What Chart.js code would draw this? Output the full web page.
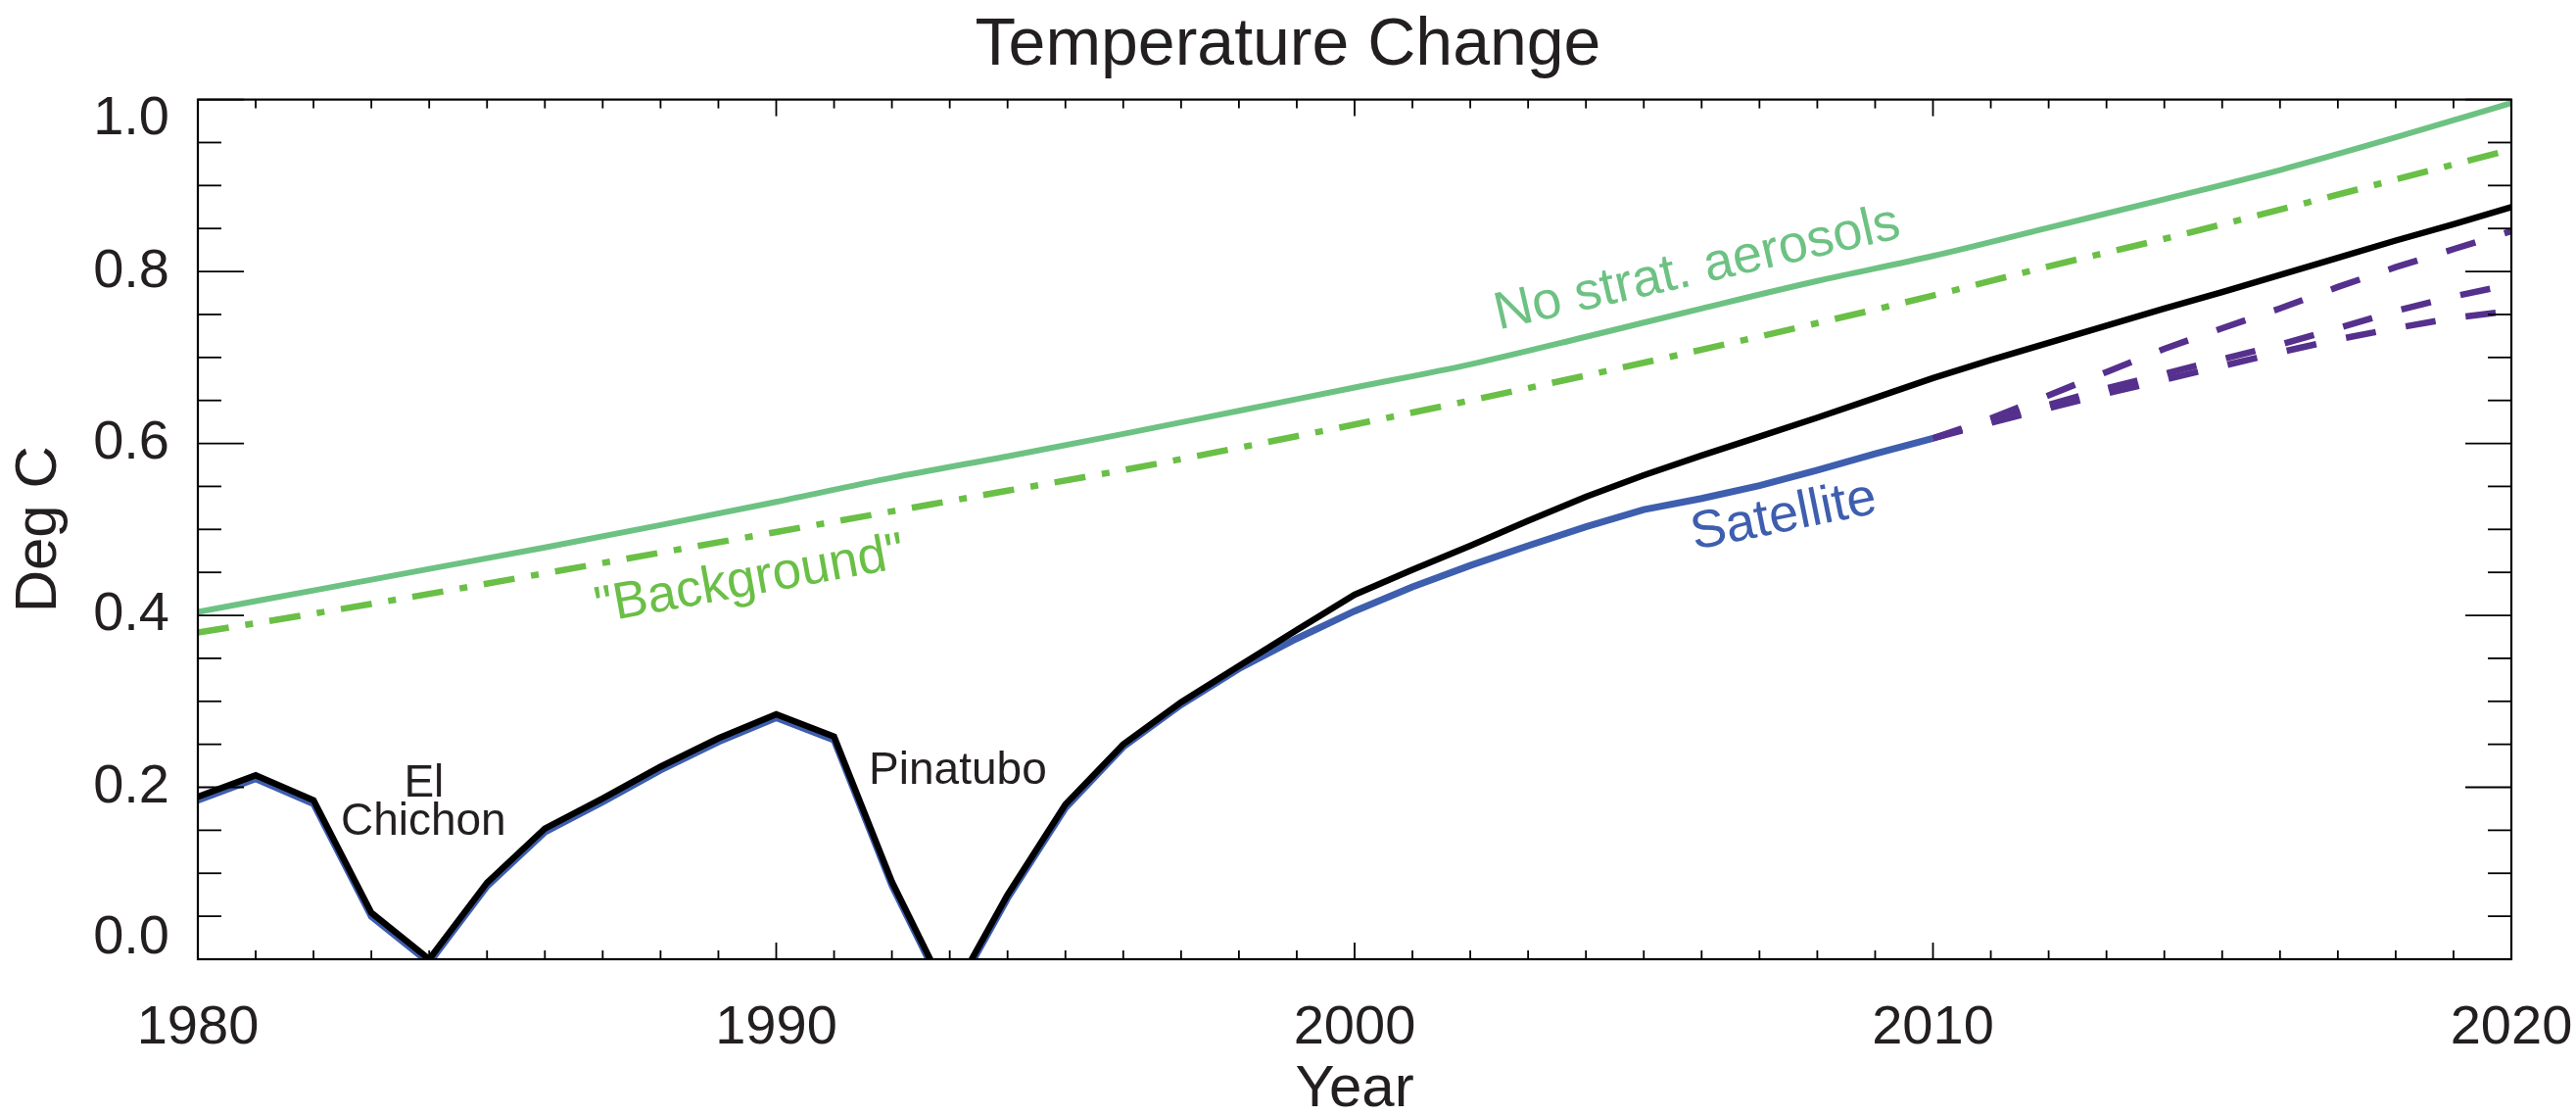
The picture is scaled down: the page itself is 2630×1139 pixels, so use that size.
<!DOCTYPE html>
<html>
<head>
<meta charset="utf-8">
<script src="https://cdn.jsdelivr.net/npm/chart.js@4"></script>
<style>
  html, body { margin: 0; padding: 0; background: #fff; }
  canvas { display: block; }
</style>
</head>
<body>
<canvas id="chartTemp" width="2630" height="1139"></canvas>
<script>
// ── Data ──────────────────────────────────────
const YEARS = [1980, 1981, 1982, 1983, 1984, 1985, 1986, 1987, 1988, 1989,
               1990, 1991, 1992, 1993, 1994, 1995, 1996, 1997, 1998, 1999,
               2000, 2001, 2002, 2003, 2004, 2005, 2006, 2007, 2008, 2009,
               2010, 2011, 2012, 2013, 2014, 2015, 2016, 2017, 2018, 2019, 2020];

// black: model with volcanic aerosols
const MODEL = [0.189, 0.214, 0.185, 0.054, 0.000, 0.089, 0.152, 0.187, 0.224, 0.257,
               0.285, 0.259, 0.090, -0.046, 0.075, 0.180, 0.250, 0.299, 0.341, 0.383,
               0.424, 0.453, 0.481, 0.510, 0.538, 0.563, 0.586, 0.608, 0.630, 0.653,
               0.676, 0.697, 0.717, 0.737, 0.757, 0.776, 0.796, 0.816, 0.836, 0.855, 0.875];

// blue: satellite era, 1980-2010
const SAT_YEARS = YEARS.slice(0, 31);
const SATELLITE = [0.185, 0.210, 0.181, 0.050, -0.004, 0.085, 0.148, 0.183, 0.220, 0.253,
                   0.281, 0.255, 0.086, -0.050, 0.071, 0.176, 0.247, 0.296, 0.338, 0.373,
                   0.405, 0.433, 0.458, 0.481, 0.503, 0.523, 0.536, 0.551, 0.569, 0.588, 0.606];

// purple dashed projections, 2010-2020
const PROJ_YEARS = YEARS.slice(30);
const PROJ_HIGH = [0.606, 0.629, 0.656, 0.683, 0.710, 0.734, 0.757, 0.782, 0.805, 0.826, 0.847];
const PROJ_MID  = [0.606, 0.626, 0.645, 0.664, 0.681, 0.698, 0.715, 0.734, 0.754, 0.771, 0.785];
const PROJ_LOW  = [0.606, 0.624, 0.641, 0.658, 0.674, 0.690, 0.706, 0.721, 0.734, 0.746, 0.754];

// green curves, every second year
const GREEN_YEARS = [1980, 1982, 1984, 1986, 1988, 1990, 1992, 1994, 1996, 1998, 2000,
                     2002, 2004, 2006, 2008, 2010, 2012, 2014, 2016, 2018, 2020];
const NO_STRAT   = [0.404, 0.429, 0.454, 0.479, 0.505, 0.532, 0.560, 0.585, 0.611, 0.638, 0.665,
                    0.692, 0.724, 0.757, 0.789, 0.818, 0.851, 0.884, 0.918, 0.956, 0.996];
const BACKGROUND = [0.380, 0.402, 0.425, 0.449, 0.473, 0.497, 0.521, 0.545, 0.569, 0.595, 0.622,
                    0.650, 0.679, 0.709, 0.740, 0.772, 0.806, 0.838, 0.872, 0.907, 0.942];

const Y_TICKS = [0.0, 0.2, 0.4, 0.6, 0.8, 1.0];

// ── Styles ─────────────────────────────────────
const FONT   = '"Liberation Sans", Helvetica, Arial, sans-serif';
const TEXT   = '#231f20';
const C_NOSTRAT = '#6dc283';
const C_BACK    = '#6abf46';
const C_SAT     = '#3e5eae';
const C_PROJ    = '#55308d';

// text labels placed in data coordinates
const NOTES = [
  { text: 'No strat. aerosols', x: 2005.98, y: 0.786, angle: -12.9, size: 54, color: C_NOSTRAT },
  { text: '"Background"',       x: 1989.59, y: 0.424, angle: -10.3, size: 53, color: C_BACK },
  { text: 'Satellite',          x: 2007.47, y: 0.498, angle: -11.4, size: 54, color: C_SAT },
  { text: 'El',                 x: 1983.91, y: 0.189, angle: 0,     size: 46, color: TEXT },
  { text: 'Chichon',            x: 1983.90, y: 0.145, angle: 0,     size: 46, color: TEXT },
  { text: 'Pinatubo',           x: 1993.14, y: 0.204, angle: 0,     size: 46, color: TEXT },
];

const pts = (xs, ys) => xs.map((x, i) => ({ x, y: ys[i] }));

// ── Frame, inward ticks, y labels, notes ──────
const frameAndNotes = {
  id: 'frameAndNotes',
  afterDatasetsDraw(chart) {
    const { ctx, chartArea: a, scales: { x, y } } = chart;
    const seg = (x1, y1, x2, y2) => { ctx.beginPath(); ctx.moveTo(x1, y1); ctx.lineTo(x2, y2); ctx.stroke(); };

    ctx.save();
    ctx.strokeStyle = '#000';
    ctx.lineWidth = 1.8;
    for (let yr = 1980; yr <= 2020; yr++) {
      const px = x.getPixelForValue(yr);
      const len = yr % 10 === 0 ? 17 : 9;
      seg(px, a.bottom, px, a.bottom - len);
      seg(px, a.top, px, a.top + len);
    }
    for (let i = 0; i <= 20; i++) {
      const py = y.getPixelForValue(i * 0.05);
      const len = i % 4 === 0 ? 47 : 24;
      seg(a.left, py, a.left + len, py);
      seg(a.right, py, a.right - len, py);
    }
    ctx.lineWidth = 2.2;
    ctx.strokeRect(a.left, a.top, a.right - a.left, a.bottom - a.top);

    // y tick labels, kept inside the frame at the ends
    ctx.fillStyle = TEXT;
    ctx.font = '56px ' + FONT;
    ctx.textAlign = 'right';
    ctx.textBaseline = 'middle';
    Y_TICKS.forEach(v => {
      let py = y.getPixelForValue(v);
      py = Math.min(Math.max(py, a.top + 20), a.bottom - 21);
      ctx.fillText(v.toFixed(1), a.left - 29, py);
    });

    // curve labels
    ctx.textAlign = 'center';
    ctx.textBaseline = 'alphabetic';
    NOTES.forEach(n => {
      ctx.save();
      ctx.translate(x.getPixelForValue(n.x), y.getPixelForValue(n.y));
      ctx.rotate(n.angle * Math.PI / 180);
      ctx.font = n.size + 'px ' + FONT;
      ctx.fillStyle = n.color;
      ctx.fillText(n.text, 0, 0);
      ctx.restore();
    });
    ctx.restore();
  },
};

Chart.defaults.font.family = FONT;
Chart.defaults.color = TEXT;

const line = (data, color, width, extra) => Object.assign({
  data,
  borderColor: color,
  borderWidth: width,
  pointRadius: 0,
  tension: 0,
  fill: false,
  clip: 0,
}, extra);

new Chart(document.getElementById('chartTemp'), {
  type: 'line',
  data: {
    datasets: [
      line(pts(GREEN_YEARS, NO_STRAT), C_NOSTRAT, 6, { order: 6, cubicInterpolationMode: 'monotone' }),
      line(pts(GREEN_YEARS, BACKGROUND), C_BACK, 6.5, { order: 5, cubicInterpolationMode: 'monotone', borderDash: [32, 17, 8, 17] }),
      line(pts(SAT_YEARS, SATELLITE), C_SAT, 7, { order: 3 }),
      line(pts(YEARS, MODEL), '#000', 6.5, { order: 2 }),
      line(pts(PROJ_YEARS, PROJ_HIGH), C_PROJ, 6.5, { order: 1, borderDash: [31, 31] }),
      line(pts(PROJ_YEARS, PROJ_MID),  C_PROJ, 6.5, { order: 1, borderDash: [31, 31] }),
      line(pts(PROJ_YEARS, PROJ_LOW),  C_PROJ, 6.5, { order: 1, borderDash: [31, 31] }),
    ],
  },
  options: {
    responsive: false,
    animation: false,
    devicePixelRatio: 1,
    layout: { padding: 0 },
    plugins: {
      legend: { display: false },
      tooltip: { enabled: false },
      title: {
        display: true,
        text: 'Temperature Change',
        color: TEXT,
        font: { size: 68, weight: 'normal', lineHeight: 1.2 },
        padding: { top: 6, bottom: 14 },
      },
    },
    scales: {
      x: {
        type: 'linear',
        min: 1980,
        max: 2020,
        grid: { display: false },
        border: { display: false },
        ticks: {
          stepSize: 10,
          autoSkip: false,
          maxRotation: 0,
          padding: 29,
          color: TEXT,
          font: { size: 56 },
          callback: v => String(v),
        },
        title: {
          display: true,
          text: 'Year',
          color: TEXT,
          font: { size: 60, lineHeight: 0.9 },
          padding: { top: 0, bottom: 0 },
        },
        afterFit: s => { s.height = 160; s.paddingLeft = 0; s.paddingRight = 66; },
      },
      y: {
        min: 0,
        max: 1,
        grid: { display: false },
        border: { display: false },
        ticks: { display: false, stepSize: 0.2 },
        title: {
          display: true,
          text: 'Deg C',
          color: TEXT,
          font: { size: 60, lineHeight: 0.9 },
          padding: { top: 13, bottom: 0 },
        },
        afterFit: s => { s.width = 202; },
      },
    },
  },
  plugins: [frameAndNotes],
});
</script>
</body>
</html>
